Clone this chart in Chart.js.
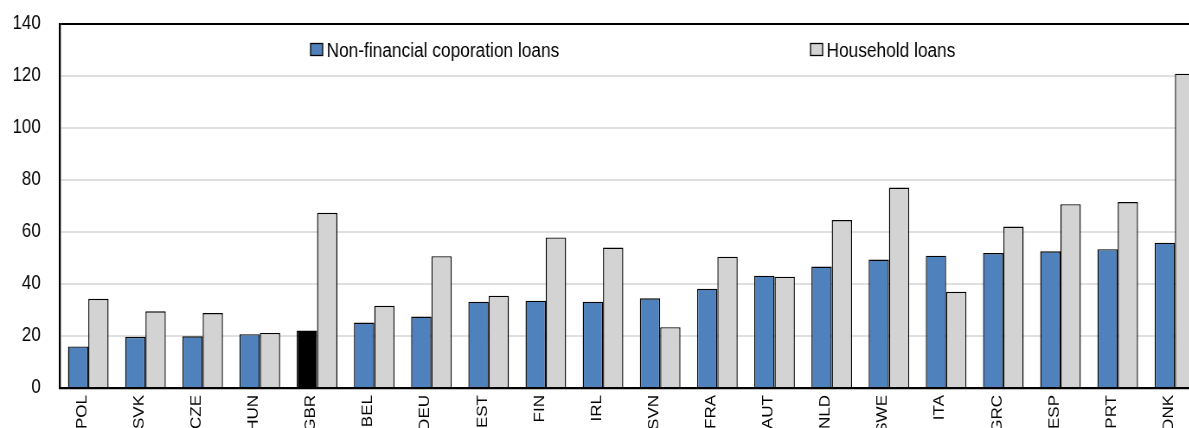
<!DOCTYPE html>
<html>
<head>
<meta charset="utf-8">
<script src="https://cdn.jsdelivr.net/npm/chart.js@4"></script>
<style>
  html, body { margin: 0; padding: 0; background: #fff; overflow: hidden; }
  /* the original is squeezed sideways, so draw wide and scale x down */
  #myChart { transform: scaleX(0.865); transform-origin: 0 0; }
</style>
</head>
<body>
<canvas id="myChart" width="1405" height="450"></canvas>
<script>
const countries = ['POL', 'SVK', 'CZE', 'HUN', 'GBR', 'BEL', 'DEU', 'EST', 'FIN', 'IRL',
    'SVN', 'FRA', 'AUT', 'NLD', 'SWE', 'ITA', 'GRC', 'ESP', 'PRT', 'DNK'];
const corporateLoans = [16.0, 19.7, 19.9, 20.7, 22.1, 25.2, 27.5, 33.2, 33.6, 33.2,
    34.5, 38.2, 43.2, 46.7, 49.4, 50.9, 51.9, 52.6, 53.4, 55.9];
const householdLoans = [34.3, 29.5, 28.8, 21.2, 67.4, 31.6, 50.7, 35.5, 57.9, 54.0,
    23.4, 50.5, 42.8, 64.6, 77.1, 37.0, 62.1, 70.7, 71.5, 120.9];
const seriesNames = ['Non-financial coporation loans', 'Household loans'];
const highlight = 'GBR';

const font = "'Liberation Sans', Arial, sans-serif";
const blue = '#4f81bd';
const grey = '#d3d3d3';

// legend sits inside the plot, drawn by hand
const legendInside = {
    id: 'legendInside',
    afterDraw(chart) {
        const ctx = chart.ctx;
        const spots = [359, 937];
        ctx.save();
        ctx.font = '20px ' + font;
        ctx.textBaseline = 'alphabetic';
        chart.data.datasets.forEach((ds, i) => {
            const x = spots[i];
            ctx.fillStyle = ds.legendColor;
            ctx.fillRect(x, 43.5, 14, 12);
            ctx.strokeStyle = '#000';
            ctx.lineWidth = 1.3;
            ctx.strokeRect(x, 43.5, 14, 12);
            ctx.fillStyle = '#000';
            ctx.fillText(ds.label, x + 18.5, 57);
        });
        ctx.restore();
    }
};

const ctx = document.getElementById('myChart').getContext('2d');
new Chart(ctx, {
    type: 'bar',
    data: {
        labels: countries,
        datasets: [{
            label: seriesNames[0],
            data: corporateLoans,
            backgroundColor: countries.map(c => c === highlight ? '#000000' : blue),
            legendColor: blue,
            borderColor: '#000',
            borderWidth: 1.4,
            borderSkipped: 'bottom'
        }, {
            label: seriesNames[1],
            data: householdLoans,
            backgroundColor: grey,
            legendColor: grey,
            borderColor: '#000',
            borderWidth: 1.4,
            borderSkipped: 'bottom'
        }]
    },
    options: {
        responsive: false,
        animation: false,
        devicePixelRatio: 1,
        layout: { padding: { left: 0, top: 24, right: 13.7, bottom: 0 } },
        datasets: {
            bar: { barPercentage: 1, categoryPercentage: 0.71 }
        },
        plugins: {
            legend: { display: false },
            tooltip: { enabled: false }
        },
        scales: {
            x: {
                grid: { display: false, drawTicks: false },
                border: { color: '#000', width: 2.3 },
                ticks: {
                    color: '#000',
                    font: { family: font, size: 17 },
                    minRotation: 90,
                    maxRotation: 90,
                    autoSkip: false,
                    padding: 7,
                    labelOffset: -7
                },
                afterFit(scale) { scale.height = 62; }
            },
            y: {
                min: 0,
                max: 140,
                ticks: {
                    stepSize: 20,
                    color: '#000',
                    font: { family: font, size: 19.5 },
                    padding: 22
                },
                grid: {
                    drawTicks: false,
                    lineWidth: 2,
                    color: c => c.tick.value === 140 ? '#000' : '#e0e0e0'
                },
                border: { color: '#000', width: 2.3 },
                afterFit(scale) {
                    scale.width = 69;
                    scale.paddingTop = 24;
                    scale.paddingBottom = 0;
                }
            }
        }
    },
    plugins: [legendInside]
});
</script>
</body>
</html>
